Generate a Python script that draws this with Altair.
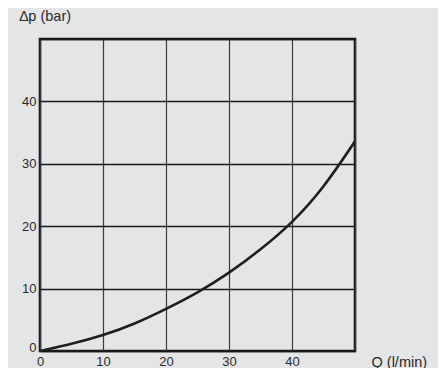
import altair as alt
import pandas as pd

flow = [0, 5, 10, 15, 20, 25, 30, 35, 40, 45, 50]
dp = [0, 1.15, 2.55, 4.4, 6.75, 9.4, 12.55, 16.3, 20.7, 26.4, 33.6]
ticks = [0, 10, 20, 30, 40, 50]

df = pd.DataFrame({"Q": flow, "dp": dp})

font = "Liberation Sans"

chart = alt.Chart(df).mark_line(
    color="#1e1e1e", strokeWidth=2.6, interpolate="natural", clip=True
).encode(
    x=alt.X(
        "Q:Q",
        scale=alt.Scale(domain=[0, 50], nice=False, zero=True),
        axis=alt.Axis(
            values=ticks,
            labelExpr="datum.value == 50 ? '' : datum.label",
            title="Q (l/min)",
            titleX=331,
            titleY=11,
            titleAlign="left",
            titleBaseline="middle",
            titleAngle=0,
            titleFontWeight="normal",
            titleFontSize=14.5,
            titleFont=font,
            titleColor="#2b2b2b",
            labelFont=font,
            labelFontSize=13,
            labelColor="#2b2b2b",
            labelPadding=4,
            tickSize=0,
            domain=False,
            grid=True,
            gridColor="#3a3a3a",
            gridWidth=1.2,
            gridOpacity=1,
            labelFlush=False,
        ),
    ),
    y=alt.Y(
        "dp:Q",
        scale=alt.Scale(domain=[0, 50], nice=False, zero=True),
        axis=alt.Axis(
            values=ticks,
            labelExpr="datum.value == 50 ? '' : datum.label",
            title="∆p (bar)",
            titleX=-21,
            titleY=-23,
            titleAlign="left",
            titleBaseline="middle",
            titleAngle=0,
            titleFontWeight="normal",
            titleFontSize=14.5,
            titleFont=font,
            titleColor="#2b2b2b",
            labelFont=font,
            labelFontSize=13,
            labelColor="#2b2b2b",
            labelPadding=4,
            labelOffset={"condition": {"test": "datum.value == 0", "value": -4}, "value": 0},
            tickSize=0,
            domain=False,
            grid=True,
            gridColor="#1a1a1a",
            gridWidth=1.4,
            gridOpacity=1,
            labelFlush=False,
        ),
    ),
).properties(
    width=315,
    height=312,
    background="#e4e5e7",
    autosize=alt.AutoSizeParams(type="none"),
    padding={"left": 32, "top": 31, "right": 83, "bottom": 17},
).configure_view(
    stroke="#1a1a1a", strokeWidth=2.6
)

chart.save("out.html", embed_options={"renderer": "svg", "actions": False})
